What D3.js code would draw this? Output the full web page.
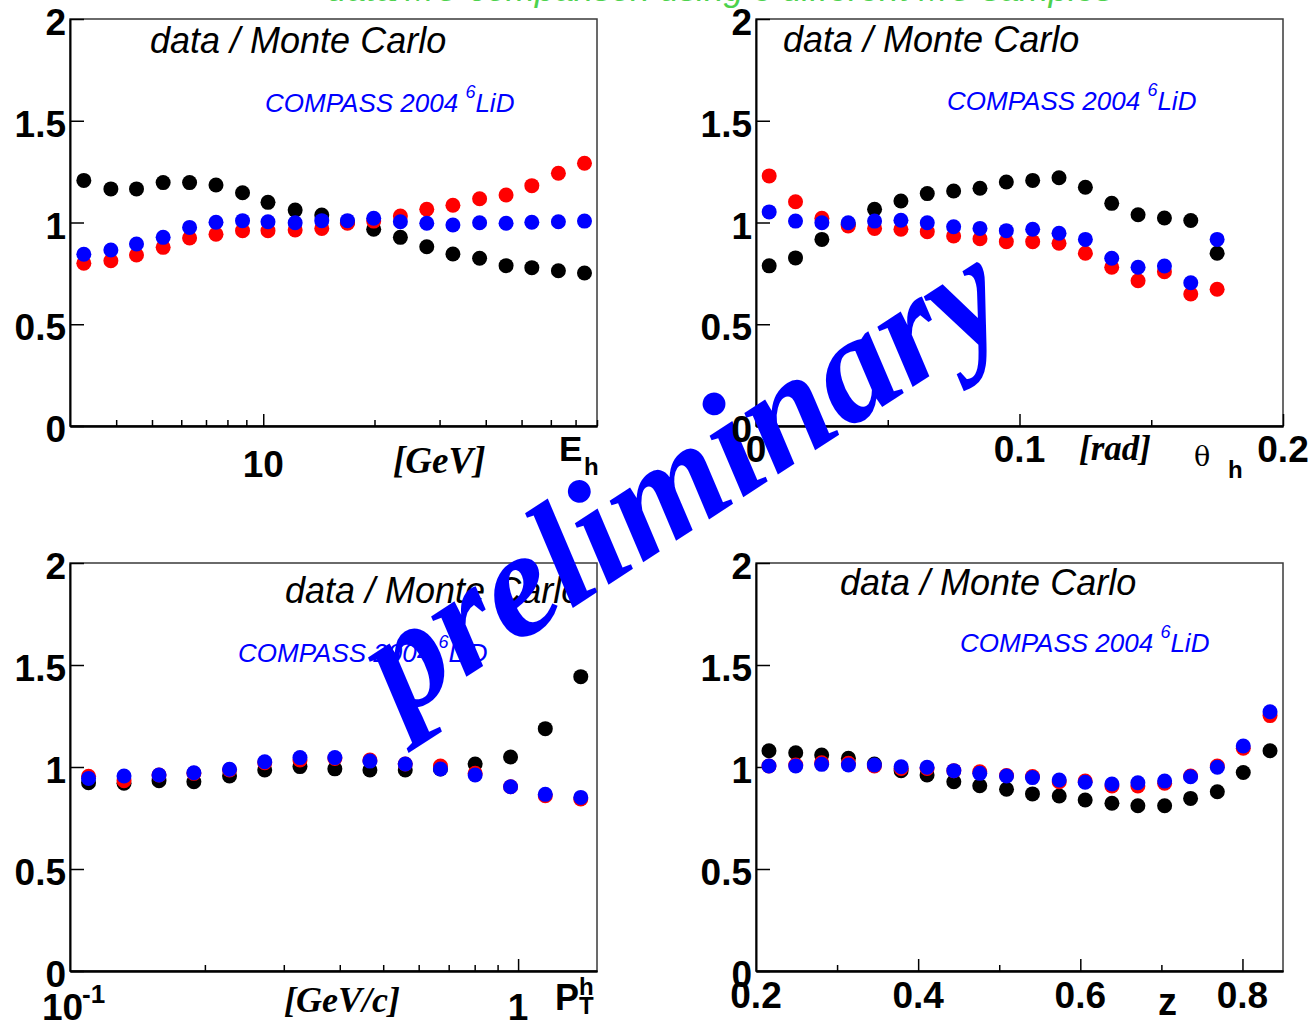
<!DOCTYPE html>
<html>
<head>
<meta charset="utf-8">
<script src="https://cdn.jsdelivr.net/npm/d3@7"></script>
<style>
  body { margin: 0; background: #fff; }
  svg { display: block; }
</style>
</head>
<body>
<svg id="canvas" width="1315" height="1025"></svg>
<script>
// ---- ratio data / Monte Carlo, three MC samples (black, red, blue) ----

// hadron energy E_h [GeV]
const energyBins  = [3.27, 3.87, 4.54, 5.36, 6.32, 7.45, 8.79, 10.3, 12.2, 14.4, 16.9, 19.9, 23.5, 27.7, 32.6, 38.5, 45.4, 53.3, 62.9, 74.0];
const energyBlack = [1.207, 1.165, 1.165, 1.196, 1.196, 1.184, 1.146, 1.099, 1.061, 1.037, 1.000, 0.967, 0.927, 0.881, 0.845, 0.824, 0.788, 0.778, 0.763, 0.752];
const energyRed   = [0.800, 0.812, 0.840, 0.878, 0.924, 0.942, 0.960, 0.960, 0.963, 0.971, 0.996, 1.007, 1.032, 1.065, 1.085, 1.117, 1.135, 1.181, 1.242, 1.291];
const energyBlue  = [0.844, 0.865, 0.894, 0.927, 0.976, 1.001, 1.009, 1.004, 0.999, 1.009, 1.009, 1.021, 1.004, 0.996, 0.988, 0.999, 0.996, 1.001, 1.004, 1.007];

// hadron polar angle theta_h [rad]
const thetaBins  = [0.005, 0.015, 0.025, 0.035, 0.045, 0.055, 0.065, 0.075, 0.085, 0.095, 0.105, 0.115, 0.125, 0.135, 0.145, 0.155, 0.165, 0.175];
const thetaBlack = [0.787, 0.826, 0.917, 0.990, 1.065, 1.106, 1.142, 1.155, 1.168, 1.199, 1.207, 1.220, 1.173, 1.094, 1.038, 1.022, 1.010, 0.849];
const thetaRed   = [1.229, 1.102, 1.021, 0.983, 0.971, 0.967, 0.955, 0.934, 0.920, 0.906, 0.906, 0.898, 0.849, 0.780, 0.714, 0.758, 0.649, 0.672];
const thetaBlue  = [1.052, 1.007, 0.999, 0.999, 1.007, 1.011, 0.999, 0.979, 0.971, 0.960, 0.967, 0.947, 0.917, 0.824, 0.780, 0.786, 0.704, 0.917];

// hadron transverse momentum P_T^h [GeV/c]
const ptBins  = [0.110, 0.132, 0.158, 0.189, 0.227, 0.272, 0.326, 0.390, 0.467, 0.560, 0.671, 0.802, 0.962, 1.15, 1.38];
const ptBlack = [0.923, 0.920, 0.933, 0.928, 0.956, 0.985, 1.002, 0.991, 0.985, 0.985, 0.990, 1.015, 1.049, 1.188, 1.443];
const ptRed   = [0.955, 0.933, 0.961, 0.969, 0.985, 1.021, 1.034, 1.042, 1.034, 1.015, 1.005, 0.969, 0.903, 0.859, 0.843];
const ptBlue  = [0.944, 0.956, 0.961, 0.972, 0.989, 1.026, 1.046, 1.046, 1.029, 1.015, 0.990, 0.961, 0.903, 0.866, 0.851];

// energy fraction z
const zBins  = [0.216, 0.249, 0.281, 0.314, 0.346, 0.379, 0.411, 0.444, 0.476, 0.509, 0.541, 0.574, 0.606, 0.639, 0.671, 0.704, 0.736, 0.769, 0.801, 0.834];
const zBlack = [1.080, 1.070, 1.059, 1.043, 1.015, 0.982, 0.961, 0.928, 0.908, 0.891, 0.868, 0.858, 0.838, 0.822, 0.810, 0.810, 0.846, 0.879, 0.973, 1.080];
const zRed   = [1.005, 1.010, 1.021, 1.018, 1.005, 0.993, 0.993, 0.982, 0.977, 0.958, 0.953, 0.928, 0.931, 0.907, 0.907, 0.920, 0.956, 1.005, 1.092, 1.252];
const zBlue  = [1.005, 1.005, 1.013, 1.010, 1.010, 1.001, 0.999, 0.982, 0.969, 0.956, 0.948, 0.936, 0.925, 0.917, 0.923, 0.931, 0.952, 0.999, 1.103, 1.271];

const yTickValues = [0, 0.5, 1, 1.5, 2];
const yTickLabels = ["0", "0.5", "1", "1.5", "2"];
const seriesColors = ["#000000", "#ff0000", "#0000ff"];

const SANS = "'Liberation Sans', Arial, Helvetica, sans-serif";
const SERIF = "'Liberation Serif', 'Times New Roman', serif";

const svg = d3.select("#canvas");
svg.append("rect").attr("width", 1315).attr("height", 1025).attr("fill", "#fff");

// green page heading, mostly above the visible area
svg.append("text")
  .attr("x", 327).attr("y", 1)
  .attr("font-family", SANS).attr("font-style", "italic")
  .attr("font-size", 35).attr("fill", "#4dd24d")
  .text("data/MC comparison using 3 different MC samples");

const layerPanels = svg.append("g");
const layerWatermark = svg.append("g");
const layerTop = svg.append("g");

const panels = [
  {
    box: {x0: 70, x1: 597, y0: 19, y1: 426},
    x: d3.scaleLog().domain([3, 80]),
    bins: energyBins, series: [energyBlack, energyRed, energyBlue],
    major: [10], minor: [4, 5, 6, 7, 8, 9, 20, 30, 40, 50, 60, 70, 80],
    xLabels: [{v: 10, t: "10"}], xLabelBase: 477,
    title: {x: 150, y: 53}, tag: {x: 265, y: 112},
    labelLayer: layerPanels
  },
  {
    box: {x0: 756, x1: 1283, y0: 19, y1: 426},
    x: d3.scaleLinear().domain([0, 0.2]),
    bins: thetaBins, series: [thetaBlack, thetaRed, thetaBlue],
    major: [0.1, 0.2], minor: [0.05, 0.15],
    xLabels: [{v: 0, t: "0"}, {v: 0.1, t: "0.1"}, {v: 0.2, t: "0.2"}], xLabelBase: 462,
    title: {x: 783, y: 52}, tag: {x: 947, y: 110},
    labelLayer: layerTop
  },
  {
    box: {x0: 70, x1: 597, y0: 563, y1: 971},
    x: d3.scaleLog().domain([0.1, 1.5]),
    bins: ptBins, series: [ptBlack, ptRed, ptBlue],
    major: [1], minor: [0.2, 0.3, 0.4, 0.5, 0.6, 0.7, 0.8, 0.9],
    xLabels: [{v: 1, t: "1"}], xLabelBase: 1020,
    title: {x: 285, y: 603}, tag: {x: 238, y: 662},
    labelLayer: layerPanels
  },
  {
    box: {x0: 756, x1: 1283, y0: 563, y1: 971},
    x: d3.scaleLinear().domain([0.2, 0.85]),
    bins: zBins, series: [zBlack, zRed, zBlue],
    major: [0.4, 0.6, 0.8], minor: [0.3, 0.5, 0.7],
    xLabels: [{v: 0.2, t: "0.2"}, {v: 0.4, t: "0.4"}, {v: 0.6, t: "0.6"}, {v: 0.8, t: "0.8"}], xLabelBase: 1008,
    title: {x: 840, y: 595}, tag: {x: 960, y: 652},
    labelLayer: layerPanels
  }
];

panels.forEach(p => {
  const b = p.box;
  p.x.range([b.x0, b.x1]);
  const y = d3.scaleLinear().domain([0, 2]).range([b.y1, b.y0]);
  const g = layerPanels.append("g");

  // frame (top and right edges)
  g.append("rect")
    .attr("x", b.x0).attr("y", b.y0)
    .attr("width", b.x1 - b.x0).attr("height", b.y1 - b.y0)
    .attr("fill", "none").attr("stroke", "#3a3a3a").attr("stroke-width", 1.5);

  // x axis: major and minor ticks pointing into the frame
  const xMajor = d3.axisBottom(p.x).tickValues(p.major).tickSize(-12).tickSizeOuter(0).tickFormat("");
  const xMinor = d3.axisBottom(p.x).tickValues(p.minor).tickSize(-6).tickSizeOuter(0).tickFormat("");
  [xMinor, xMajor].forEach(ax => {
    const a = g.append("g").attr("transform", `translate(0,${b.y1})`).call(ax);
    a.selectAll("path.domain").attr("stroke", "#000").attr("stroke-width", 2);
    a.selectAll(".tick line").attr("stroke", "#000").attr("stroke-width", 1.5);
  });

  // y axis
  const yAx = d3.axisLeft(y).tickValues(yTickValues).tickSize(-14).tickSizeOuter(0).tickFormat("");
  const ay = g.append("g").attr("transform", `translate(${b.x0},0)`).call(yAx);
  ay.selectAll("path.domain").attr("stroke", "#000").attr("stroke-width", 2);
  ay.selectAll(".tick line").attr("stroke", "#000").attr("stroke-width", 1.5);

  // tick labels
  const lab = p.labelLayer.append("g")
    .attr("font-family", SANS).attr("font-weight", "bold")
    .attr("font-size", 37).attr("fill", "#000");
  lab.selectAll("text.ylab").data(yTickValues).join("text")
    .attr("class", "ylab")
    .attr("x", b.x0 - 4).attr("y", v => y(v) + 16)
    .attr("text-anchor", "end")
    .text((v, i) => yTickLabels[i]);
  lab.selectAll("text.xlab").data(p.xLabels).join("text")
    .attr("class", "xlab")
    .attr("x", d => p.x(d.v)).attr("y", p.xLabelBase)
    .attr("text-anchor", "middle")
    .text(d => d.t);

  // panel captions
  g.append("text")
    .attr("x", p.title.x).attr("y", p.title.y)
    .attr("font-family", SANS).attr("font-style", "italic")
    .attr("font-size", 36).attr("fill", "#000")
    .text("data / Monte Carlo");
  const tag = g.append("text")
    .attr("x", p.tag.x).attr("y", p.tag.y)
    .attr("font-family", SANS).attr("font-style", "italic")
    .attr("font-size", 26).attr("fill", "#0000ff");
  tag.append("tspan").text("COMPASS 2004 ");
  tag.append("tspan").attr("font-size", 18).attr("dy", -14).text("6");
  tag.append("tspan").attr("dy", 14).text("LiD");

  // markers: black, then red, then blue on top
  p.series.forEach((vals, si) => {
    g.append("g").attr("fill", seriesColors[si])
      .selectAll("circle")
      .data(vals.map((v, i) => [p.bins[i], v]))
      .join("circle")
      .attr("cx", d => p.x(d[0]))
      .attr("cy", d => y(d[1]))
      .attr("r", 7.5);
  });
});

// axis titles
// E_h
const tE = layerPanels.append("text").attr("font-family", SANS).attr("font-weight", "bold").attr("fill", "#000");
tE.append("tspan").attr("x", 559).attr("y", 461).attr("font-size", 35).text("E");
tE.append("tspan").attr("x", 584).attr("y", 475).attr("font-size", 24).text("h");
layerPanels.append("text")
  .attr("x", 393).attr("y", 473)
  .attr("font-family", SERIF).attr("font-weight", "bold").attr("font-style", "italic")
  .attr("font-size", 37).text("[GeV]");

// theta_h
layerTop.append("text")
  .attr("x", 1079).attr("y", 460)
  .attr("font-family", SERIF).attr("font-weight", "bold").attr("font-style", "italic")
  .attr("font-size", 35).text("[rad]");
layerTop.append("text")
  .attr("x", 1194).attr("y", 466)
  .attr("font-family", "'DejaVu Serif', serif").attr("font-size", 27).text("θ");
layerTop.append("text")
  .attr("x", 1228).attr("y", 478)
  .attr("font-family", SANS).attr("font-weight", "bold").attr("font-size", 24).text("h");

// P_T^h
layerPanels.append("text")
  .attr("x", 284).attr("y", 1012)
  .attr("font-family", SERIF).attr("font-weight", "bold").attr("font-style", "italic")
  .attr("font-size", 36).text("[GeV/c]");
const tP = layerPanels.append("text").attr("font-family", SANS).attr("font-weight", "bold").attr("fill", "#000");
tP.append("tspan").attr("x", 555).attr("y", 1010).attr("font-size", 36).text("P");
tP.append("tspan").attr("x", 579).attr("y", 995).attr("font-size", 24).text("h");
tP.append("tspan").attr("x", 579).attr("y", 1014).attr("font-size", 24).text("T");
// 10^-1 label at the left end of the P_T axis
const tDec = layerPanels.append("text").attr("font-family", SANS).attr("font-weight", "bold").attr("fill", "#000");
tDec.append("tspan").attr("x", 42).attr("y", 1020).attr("font-size", 37).text("10");
tDec.append("tspan").attr("x", 82).attr("y", 1003).attr("font-size", 26).text("-1");

// z
layerPanels.append("text")
  .attr("x", 1158).attr("y", 1015)
  .attr("font-family", SANS).attr("font-weight", "bold").attr("font-size", 38).text("z");

// watermark
layerWatermark.append("text")
  .attr("transform", "translate(400,720) rotate(-33)")
  .attr("font-family", SERIF).attr("font-weight", "bold").attr("font-style", "italic")
  .attr("font-size", 152).attr("fill", "#0000ff")
  .text("preliminary");
</script>
</body>
</html>
